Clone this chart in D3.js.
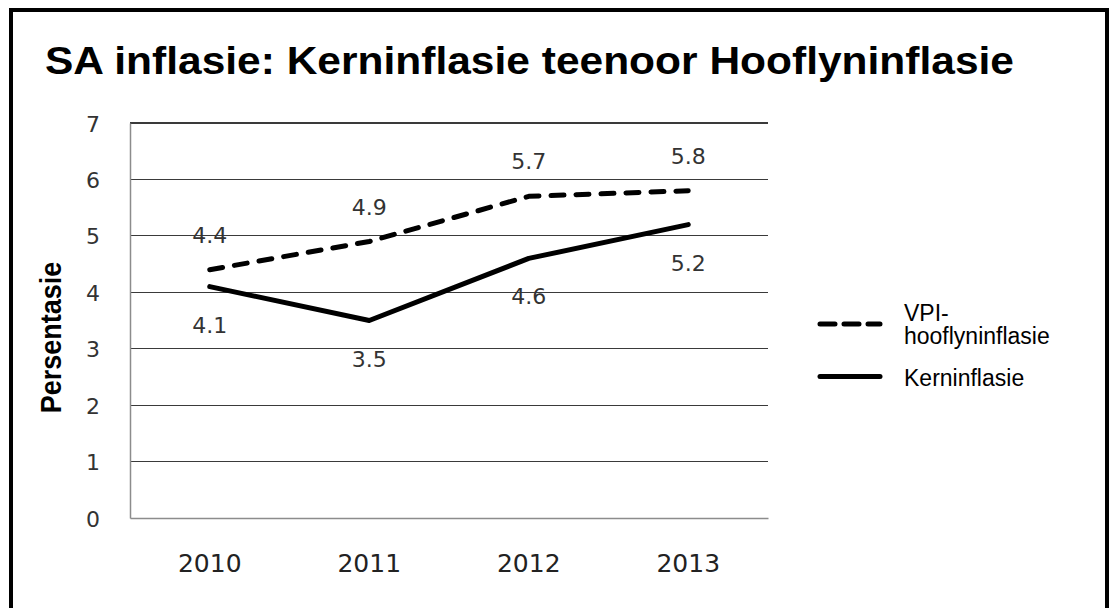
<!DOCTYPE html>
<html><head><meta charset="utf-8">
<script src="https://cdn.jsdelivr.net/npm/d3@7"></script>
<style>html,body{margin:0;padding:0;background:#fff;}svg{display:block;}</style>
</head><body>
<svg id="chart" width="1115" height="608"></svg>
<script>
const title = "SA inflasie: Kerninflasie teenoor Hooflyninflasie";
const yAxisTitle = "Persentasie";
const categories = ["2010", "2011", "2012", "2013"];
const headlineName = "VPI-hooflyninflasie";
const headlineValues = [4.4, 4.9, 5.7, 5.8];
const coreName = "Kerninflasie";
const coreValues = [4.1, 3.5, 4.6, 5.2];
const yTicks = [0, 1, 2, 3, 4, 5, 6, 7];

const svg = d3.select("#chart");
const plot = {left: 130, right: 768, top: 123, bottom: 518};

// frame
svg.append("rect").attr("x", 11).attr("y", 10).attr("width", 1096).attr("height", 610)
  .attr("fill", "#fff").attr("stroke", "#000").attr("stroke-width", 4);

// title
svg.append("text").text(title)
  .attr("transform", "translate(45,73.5) scale(1.09,1)")
  .attr("font-family", "Liberation Sans, Arial, sans-serif")
  .attr("font-weight", "bold").attr("font-size", 39).attr("fill", "#000");

const x = d3.scaleBand().domain(categories).range([plot.left, plot.right]).padding(0);
const y = d3.scaleLinear().domain([0, 7]).range([plot.bottom, plot.top]);
const cx = d => x(d) + x.bandwidth() / 2;

// gridlines
svg.append("g").selectAll("line").data(yTicks.filter(t => t > 0)).join("line")
  .attr("x1", plot.left).attr("x2", plot.right)
  .attr("y1", d => y(d)).attr("y2", d => y(d))
  .attr("stroke", "#3a3a3a").attr("stroke-width", 1.2).attr("shape-rendering", "crispEdges");

// axes
const yAxis = d3.axisLeft(y).tickValues(yTicks).tickSize(0).tickPadding(30).tickFormat(d3.format("d"));
const gy = svg.append("g").attr("transform", `translate(${plot.left},0)`).call(yAxis);
gy.select(".domain").attr("stroke", "#8c8c8c").attr("stroke-width", 1.5);
gy.selectAll("text").attr("font-family", "DejaVu Sans, sans-serif").attr("font-size", 22)
  .attr("fill", "#333").attr("dy", "0.37em");

const xAxis = d3.axisBottom(x).tickSize(0).tickPadding(0);
const gx = svg.append("g").attr("transform", `translate(0,${plot.bottom})`).call(xAxis);
gx.select(".domain").attr("stroke", "#8c8c8c").attr("stroke-width", 1.5);
gx.selectAll("text").attr("font-family", "DejaVu Sans, sans-serif").attr("font-size", 25)
  .attr("fill", "#222").attr("dy", null).attr("y", 54);

// y axis title
svg.append("text").text(yAxisTitle)
  .attr("transform", "translate(61,337.5) scale(1.09,1) rotate(-90)")
  .attr("text-anchor", "middle")
  .attr("font-family", "Liberation Sans, Arial, sans-serif")
  .attr("font-weight", "bold").attr("font-size", 27).attr("fill", "#000");

const line = d3.line().x((d, i) => cx(categories[i])).y(d => y(d));

svg.append("path").datum(headlineValues).attr("d", line)
  .attr("fill", "none").attr("stroke", "#000").attr("stroke-width", 5)
  .attr("stroke-linecap", "round").attr("stroke-linejoin", "round")
  .attr("stroke-dasharray", "13,12");

svg.append("path").datum(coreValues).attr("d", line)
  .attr("fill", "none").attr("stroke", "#000").attr("stroke-width", 5)
  .attr("stroke-linecap", "round").attr("stroke-linejoin", "round");

// data labels
const lblFont = "DejaVu Sans, sans-serif";
svg.append("g").selectAll("text").data(headlineValues).join("text")
  .attr("x", (d, i) => cx(categories[i])).attr("y", d => y(d) - 27)
  .attr("text-anchor", "middle").attr("font-family", lblFont).attr("font-size", 22)
  .attr("fill", "#333").text(d => d3.format(".1f")(d));
svg.append("g").selectAll("text").data(coreValues).join("text")
  .attr("x", (d, i) => cx(categories[i])).attr("y", d => y(d) + 46)
  .attr("text-anchor", "middle").attr("font-family", lblFont).attr("font-size", 22)
  .attr("fill", "#333").text(d => d3.format(".1f")(d));

// legend
const lg = svg.append("g").attr("font-family", "Liberation Sans, Arial, sans-serif")
  .attr("font-size", 23).attr("fill", "#000");
lg.append("line").attr("x1", 820).attr("x2", 880).attr("y1", 324).attr("y2", 324)
  .attr("stroke", "#000").attr("stroke-width", 5).attr("stroke-linecap", "round")
  .attr("stroke-dasharray", "15,9");
const t1 = lg.append("text").attr("x", 904).attr("y", 320.5);
t1.append("tspan").attr("x", 904).text("VPI-");
t1.append("tspan").attr("x", 904).attr("dy", 23.5).text("hooflyninflasie");
lg.append("line").attr("x1", 820).attr("x2", 880).attr("y1", 376.5).attr("y2", 376.5)
  .attr("stroke", "#000").attr("stroke-width", 5).attr("stroke-linecap", "round");
lg.append("text").attr("x", 904).attr("y", 386).text(coreName);
</script>
</body></html>
